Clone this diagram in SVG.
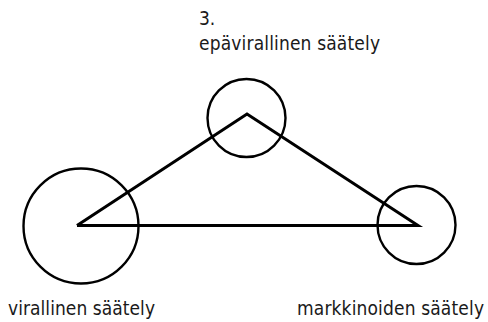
<svg xmlns="http://www.w3.org/2000/svg" width="488" height="322" viewBox="0 0 488 322">
<style>
.node{fill:none;stroke:#000;stroke-width:2.4}
.edge{fill:none;stroke:#000;stroke-width:3;stroke-linejoin:miter}
.lbl{font-family:"DejaVu Sans Condensed","DejaVu Sans",sans-serif;font-size:19px;fill:#1a1a1a}
</style>
<rect width="488" height="322" fill="#fff"/>
<g id="connectors">
<polyline class="edge" points="77,225.5 247,114 418,225.5 77,225.5"/>
</g>
<g id="node-informal">
<circle class="node" cx="246.5" cy="118" r="39"/>
<text class="lbl" x="199" y="25">3.</text>
<text class="lbl" x="199" y="50" textLength="181" lengthAdjust="spacing">epävirallinen säätely</text>
</g>
<g id="node-formal">
<circle class="node" cx="81" cy="226" r="57.5"/>
<text class="lbl" x="8" y="315" textLength="147" lengthAdjust="spacing">virallinen säätely</text>
</g>
<g id="node-market">
<circle class="node" cx="416.5" cy="225" r="39"/>
<text class="lbl" x="297" y="315" textLength="187" lengthAdjust="spacing">markkinoiden säätely</text>
</g>
</svg>
